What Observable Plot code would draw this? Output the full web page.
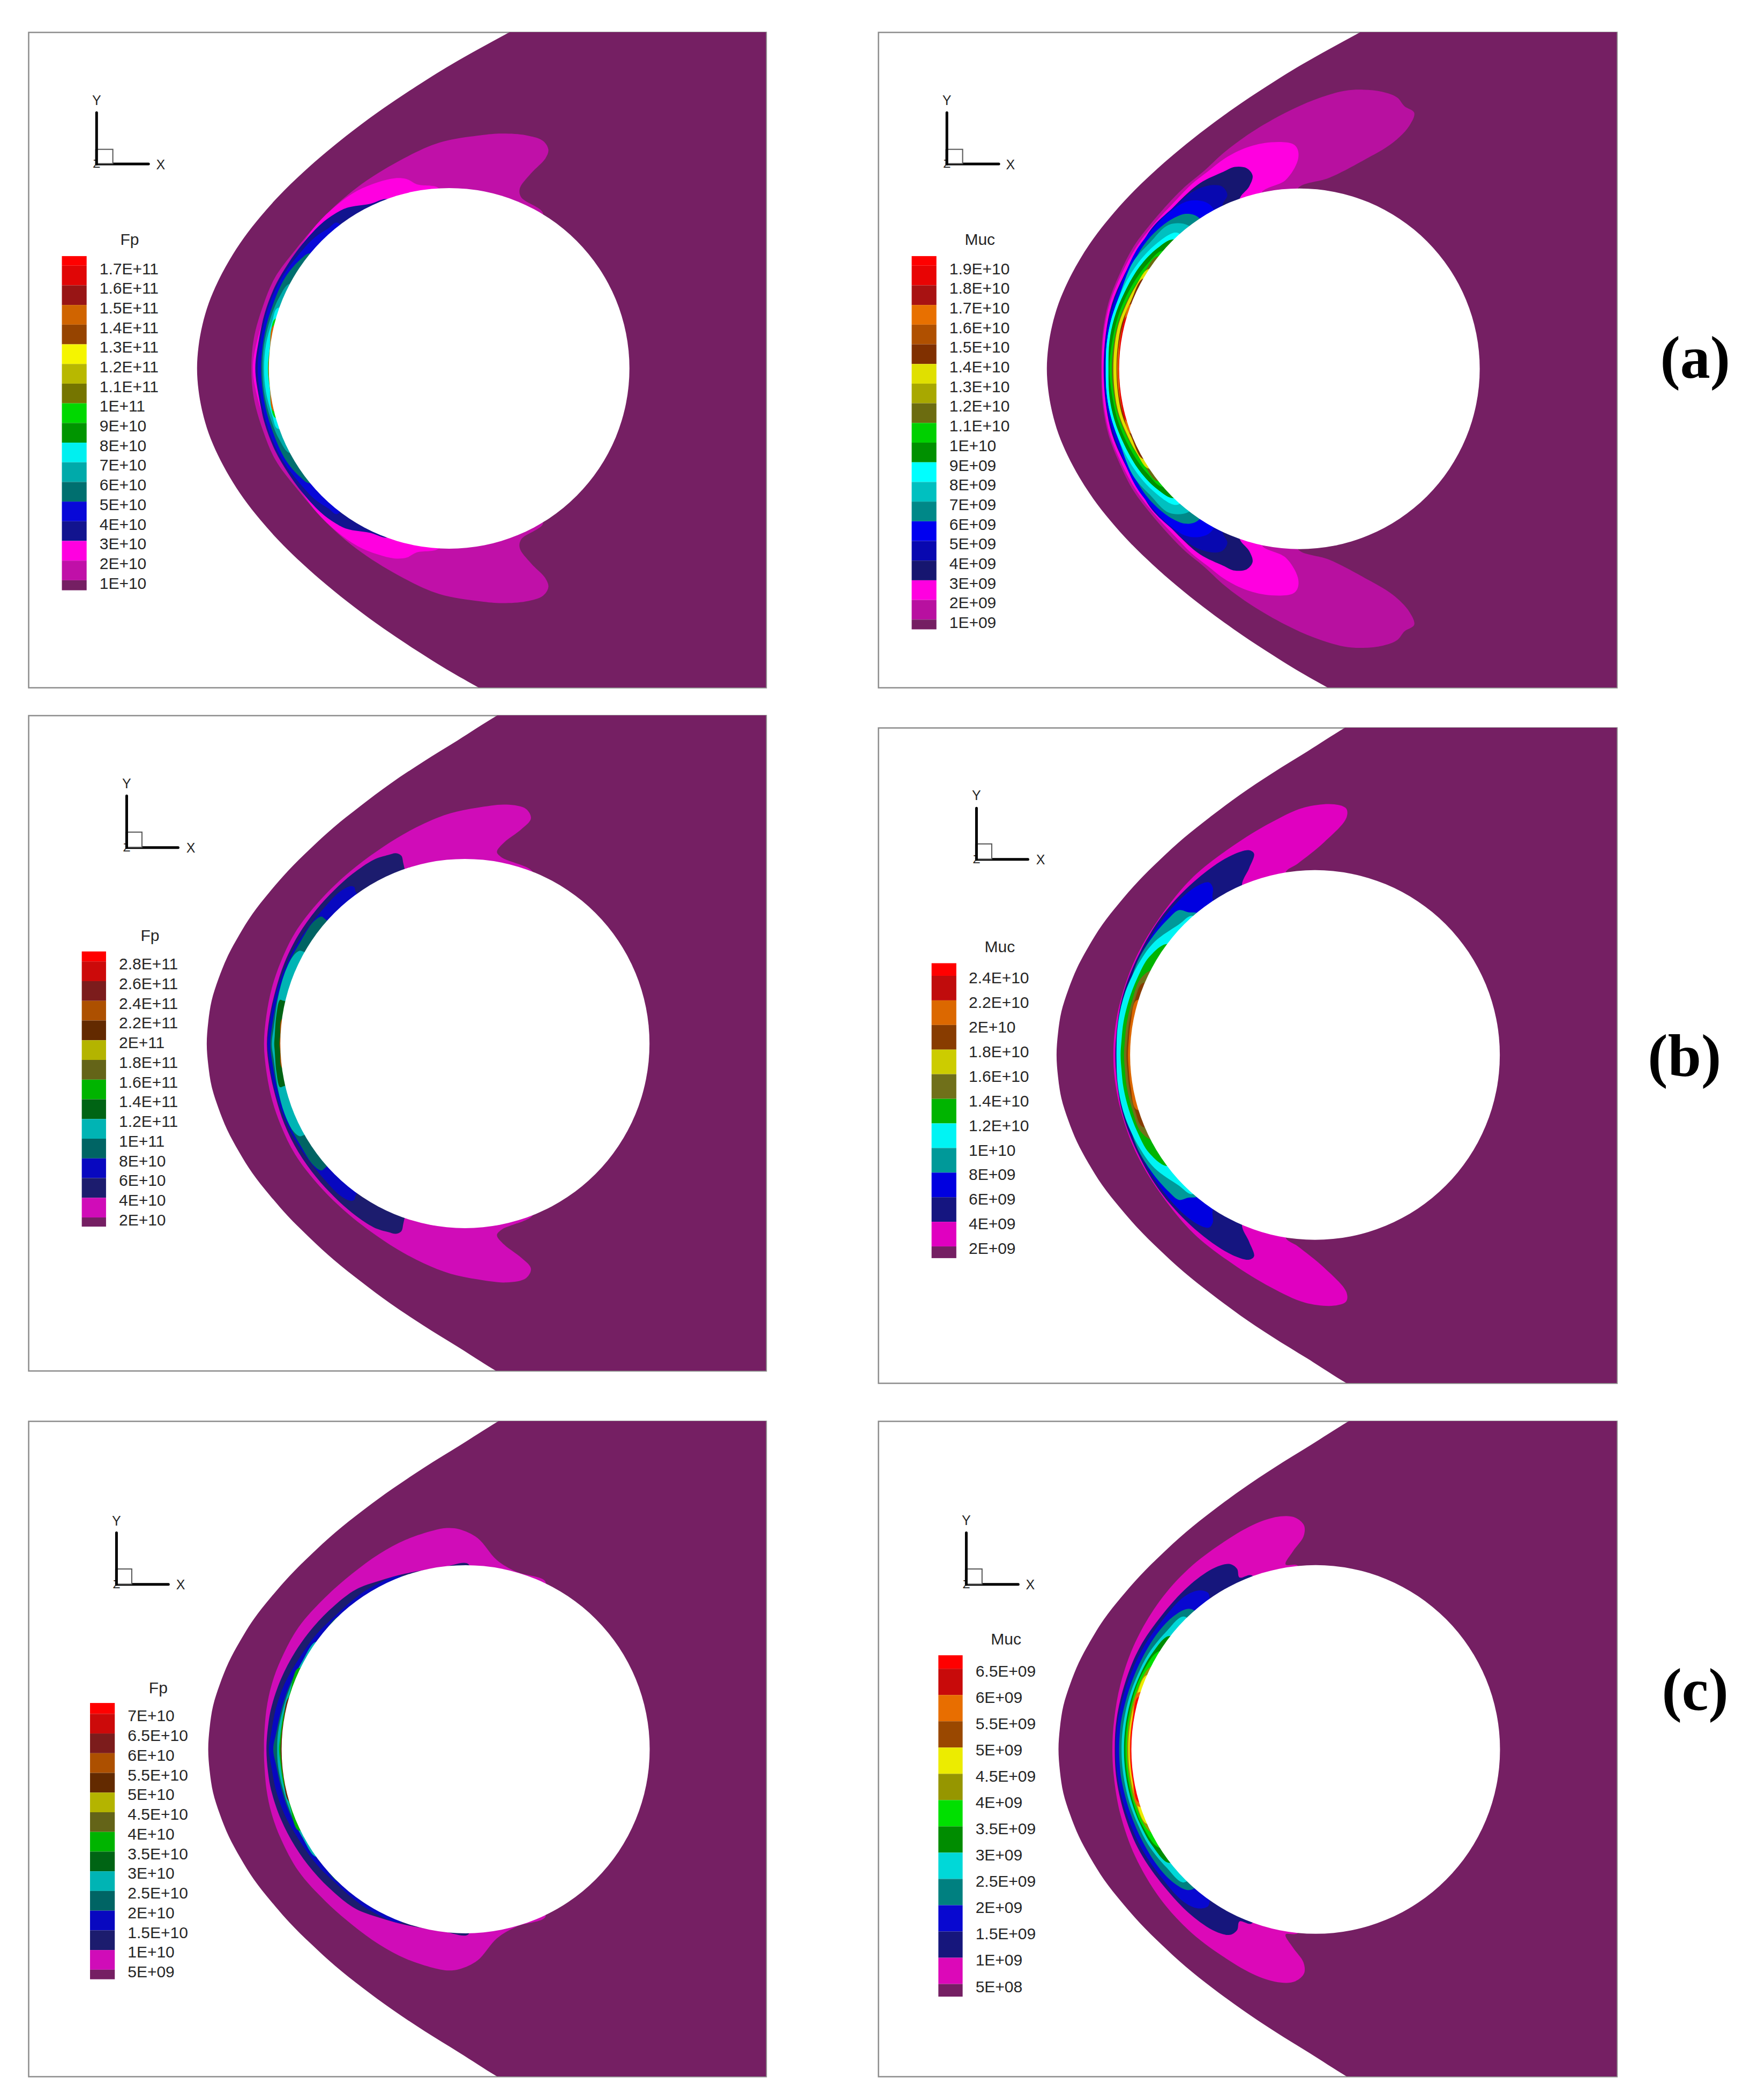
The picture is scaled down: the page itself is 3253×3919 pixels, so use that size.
<!DOCTYPE html>
<html>
<head>
<meta charset="utf-8">
<script src="https://cdn.jsdelivr.net/npm/d3@7"></script>
<script src="https://cdn.jsdelivr.net/npm/@observablehq/plot@0.6"></script>
<style>
html,body{margin:0;padding:0;background:#fff}
#page{position:relative;width:3253px;height:3919px;background:#fff;overflow:hidden}
#page>div{position:absolute}
</style>
</head>
<body>
<div id="page"></div>
<script>
// ---------- legend labels ----------
const labelsA = ["1.7E+11","1.6E+11","1.5E+11","1.4E+11","1.3E+11","1.2E+11","1.1E+11","1E+11","9E+10","8E+10","7E+10","6E+10","5E+10","4E+10","3E+10","2E+10","1E+10"];
const labelsB = ["1.9E+10","1.8E+10","1.7E+10","1.6E+10","1.5E+10","1.4E+10","1.3E+10","1.2E+10","1.1E+10","1E+10","9E+09","8E+09","7E+09","6E+09","5E+09","4E+09","3E+09","2E+09","1E+09"];
const labelsC = ["2.8E+11","2.6E+11","2.4E+11","2.2E+11","2E+11","1.8E+11","1.6E+11","1.4E+11","1.2E+11","1E+11","8E+10","6E+10","4E+10","2E+10"];
const labelsD = ["2.4E+10","2.2E+10","2E+10","1.8E+10","1.6E+10","1.4E+10","1.2E+10","1E+10","8E+09","6E+09","4E+09","2E+09"];
const labelsE = ["7E+10","6.5E+10","6E+10","5.5E+10","5E+10","4.5E+10","4E+10","3.5E+10","3E+10","2.5E+10","2E+10","1.5E+10","1E+10","5E+09"];
const labelsF = ["6.5E+09","6E+09","5.5E+09","5E+09","4.5E+09","4E+09","3.5E+09","3E+09","2.5E+09","2E+09","1.5E+09","1E+09","5E+08"];

// ---------- legend colours, top to bottom ----------
const colorsA = ["#ff0000","#e00606","#981515","#d06400","#964400","#f5f500","#b8b800","#757500","#00d800","#009500","#00f0f0","#00aaaa","#006f6f","#0808d8","#12148f","#ff00e0","#c010a8","#751f63"];
const colorsB = ["#ff0000","#e80404","#a81212","#e87000","#b05000","#803000","#e0e000","#a8a800","#6c6c10","#00d000","#009000","#00ffff","#00c0c0","#008888","#0000f0","#0808b0","#161670","#ff00e0","#b810a0","#751f63"];
const colorsC = ["#ff0000","#cc0a0a","#7c1c1c","#ad5000","#632a00","#b4b400","#646418","#00b400","#006414","#00b4b4","#006464","#0808c0","#1c1c6e","#d00cb8","#751f63"];
const colorsD = ["#ff0000","#c00c0c","#dc6800","#883c00","#cccc00","#70701a","#00b400","#00f4f4","#009999","#0000e0","#151580","#e000c0","#751f63"];
const colorsE = colorsC;
const colorsF = ["#ff0000","#c80a0a","#e86e00","#9a4800","#ecec00","#969600","#00e000","#008c00","#00d8d8","#008080","#0808d0","#16167c","#dc08b8","#751f63"];

// ---------- shock fronts, upper half ----------
const shockA = [[1109,-31],[1012,27],[896,99],[824,149],[757,199],[696,249],[640,299],[589,349],[543,399],[503,449],[468,499],[439,549],[415,599],[396,649],[383,699],[375,749],[372,799]];
const shockB = [[1105,-30],[1008,28],[892,100],[820,150],[753,200],[692,250],[636,300],[585,350],[539,400],[499,450],[464,500],[435,550],[411,600],[392,650],[379,700],[371,750],[368,800]];
const shockC = [[1115,-60],[990,18],[909,75],[837,125],[770,175],[710,225],[654,275],[605,325],[560,375],[521,425],[486,475],[458,525],[434,575],[416,625],[402,675],[395,725],[392,775]];
const shockD = [[1111,-59],[986,19],[905,76],[833,126],[766,176],[706,226],[650,276],[601,326],[556,376],[517,426],[482,476],[454,526],[430,576],[412,626],[398,676],[391,726],[388,776]];
const shockE = [[1118,-64],[994,14],[913,71],[841,121],[774,171],[713,221],[657,271],[608,321],[563,371],[524,421],[489,471],[461,521],[437,571],[419,621],[405,671],[398,721],[395,771]];
const shockF = [[1115,-64],[991,14],[910,71],[838,121],[771,171],[710,221],[654,271],[605,321],[560,371],[521,421],[486,471],[458,521],[434,571],[416,621],[402,671],[395,721],[392,771]];

// ---------- contour levels: [legend colour index, upper-half outline] ----------
const layersA = [
 [16,[[1085,442],[1040,405],[1037,385],[1060,350],[1090,315],[1096,295],[1085,275],[1050,262],[1000,258],[956,262],[871,279],[787,322],[702,382],[635,448],[576,524],[533,589],[508,655],[489,730],[484,799]]],
 [15,[[871,385],[825,375],[804,363],[779,361],[745,370],[702,390],[660,423],[618,468],[576,534],[542,594],[517,660],[497,730],[487,799]]],
 [14,[[766,410],[728,420],[681,429],[656,443],[626,468],[588,514],[559,559],[533,609],[512,670],[500,730],[492,799]]],
 [13,[[660,463],[643,476],[614,498],[580,539],[550,584],[525,640],[508,705],[497,799]]],
 [12,[[605,534],[584,549],[554,589],[529,650],[512,715],[504,799]]],
 [11,[[563,604],[542,634],[523,685],[510,745],[507,799]]],
 [10,[[538,660],[527,690],[514,745],[510,799]]],
 [8,[[533,685],[523,745],[518,799]]],
 [3,[[530,700],[522,755],[519,799]]]
];
const layersB = [
 [18,[[885,385],[950,360],[1020,320],[1080,280],[1115,240],[1125,210],[1105,195],[1090,175],[1060,162],[1020,157],[980,160],[920,180],[860,210],[790,255],[735,300],[690,346],[655,378],[626,410],[583,465],[547,518],[517,584],[495,648],[483,720],[480,800]]],
 [17,[[810,395],[860,365],[885,320],[885,295],[875,282],[830,278],[780,290],[735,315],[699,346],[666,375],[633,413],[589,466],[552,520],[521,584],[498,648],[485,720],[481.5,800]]],
 [16,[[765,410],[785,380],[792,355],[780,338],[755,335],[732,346],[684,372],[640,415],[596,469],[559,522],[526,587],[502,651],[489.5,720],[485,800]]],
 [15,[[730,425],[740,399],[729,380],[707,377],[670,391],[626,431],[585,475],[559,522],[527,587],[503,651],[490,720],[486,800]]],
 [14,[[705,423],[685,413],[655,415],[618,442],[581,485],[552,528],[526,590],[506,651],[491,720],[487.7,800]]],
 [13,[[679,450],[655,443],[626,455],[596,480],[574,506],[552,544],[515,638],[499,694],[491,747],[489.5,800]]],
 [12,[[660,470],[620,468],[580,510],[545,555],[515,640],[499,694],[491,747],[489.5,800]]],
 [11,[[640,488],[626,488],[578,528],[541,581],[515,640],[499,694],[491,747],[489.5,800]]],
 [10,[[630,502],[596,522],[559,565],[528,624],[507,683],[497,737],[495,800]]],
 [9,[[607,528],[574,560],[541,613],[515,678],[502,742],[497,800]]],
 [8,[[596,541],[567,581],[537,635],[515,694],[505,750],[502,800]]],
 [6,[[578,570],[552,608],[530,656],[513,710],[505,800]]],
 [5,[[567,592],[541,645],[523,694],[514,750],[511.6,800]]],
 [3,[[541,651],[526,694],[516,747],[513,800]]],
 [1,[[534,678],[521,720],[517,760],[515.5,800]]]
];
const layersC = [
 [13,[[1065,380],[1000,345],[990,332],[1005,310],[1040,280],[1060,255],[1050,233],[1010,223],[950,230],[894,243],[839,267],[784,300],[729,341],[673,391],[618,453],[574,518],[545,584],[526,646],[515,708],[510,775]]],
 [12,[[800,372],[797,358],[793,341],[782,335],[766,339],[736,350],[692,383],[655,420],[618,465],[581,523],[552,588],[534,650],[521,716],[516,775]]],
 [11,[[699,424],[696,413],[688,411],[666,424],[637,457],[604,502],[574,551],[548,613],[530,675],[519,749],[517,775]]],
 [10,[[635,486],[628,481],[611,494],[585,539],[559,593],[541,654],[528,724],[523,775]]],
 [9,[[591,562],[583,560],[570,572],[552,613],[539,667],[530,737],[526,775]]],
 [8,[[550,675],[543,673],[535.5,708],[532,757],[531,775]]],
 [3,[[548,716],[543,757],[541.8,775]]]
];
const layersD = [
 [11,[[860,355],[885,335],[940,285],[985,230],[985,208],[960,198],[900,205],[830,240],[750,295],[670,365],[600,460],[550,555],[520,650],[508,720],[505,776]]],
 [10,[[770,385],[785,345],[795,312],[785,304],[750,315],[700,350],[640,410],[590,480],[545,575],[522,650],[512,720],[509,776]]],
 [9,[[710,418],[710,390],[702,378],[680,385],[640,420],[590,490],[552,572],[525,650],[514,720],[511,776]]],
 [8,[[680,450],[660,447],[640,442],[620,460],[585,505],[555,560],[532,640],[516,720],[511.5,776]]],
 [7,[[668,455],[640,475],[590,515],[560,560],[530,630],[515,700],[511.5,776]]],
 [6,[[617,520],[579,550],[554,600],[537,650],[526,700],[522,740],[520,776]]],
 [5,[[587,580],[561,600],[544,650],[533,700],[529,740],[527,776]]],
 [3,[[566,610],[549,650],[538,700],[534,740],[532,776]]],
 [2,[[553,650],[541,700],[537,740],[535,776]]]
];
const layersE = [
 [13,[[1090,385],[1030,362],[990,335],[950,284],[913,264],[887,261],[858,267],[802,288],[747,321],[692,366],[637,420],[581,490],[545,564],[526,621],[515,679],[510,753],[510,771]]],
 [12,[[931,344],[876,352],[802,366],[747,383],[699,403],[655,440],[611,490],[574,547],[545,609],[526,671],[519,712],[515,771]]],
 [11,[[795,372],[729,399],[692,428],[655,465],[618,506],[581,564],[552,621],[534,679],[525,732],[520,771]]],
 [10,[[666,465],[633,502],[596,556],[567,613],[548,671],[535.5,732],[529,771]]],
 [9,[[618,523],[589,568],[563,630],[548,683],[539,732],[537,771]]],
 [7,[[581,584],[563,642],[550,691],[543,745],[541,771]]],
 [4,[[563,650],[550,704],[544.7,753],[544,771]]]
];
const layersF = [
 [12,[[885,348],[860,345],[875,315],[897,280],[898,255],[880,237],[850,234],[800,250],[730,295],[660,355],[600,430],[550,525],[520,620],[507,700],[503,771]]],
 [11,[[790,370],[765,375],[760,355],[745,344],[715,352],[665,390],[610,455],[560,535],[530,615],[512,700],[508,771]]],
 [10,[[705,425],[700,410],[680,405],[650,420],[605,475],[565,540],[535,615],[515,700],[510,771]]],
 [9,[[670,450],[655,448],[625,468],[595,505],[565,560],[540,625],[522,700],[518,740],[517,771]]],
 [8,[[650,465],[614,500],[578,550],[555,600],[538,650],[527.5,700],[523,740],[522,771]]],
 [7,[[620,510],[585,550],[560,600],[543,650],[532.5,700],[528,740],[527,771]]],
 [6,[[600,545],[563,600],[546,650],[535.5,700],[531,740],[530,771]]],
 [5,[[584,580],[549,650],[538.5,700],[534,740],[533,771]]],
 [4,[[574,600],[552,650],[541.5,700],[537,740],[536,771]]],
 [2,[[557,640],[544,700],[539.5,740],[538.5,771]]],
 [0,[[557,650],[545.5,700],[541,740],[540,771]]]
];

// ---------- panel layout (the x and y domains are each panel's own reading units) ----------
const panels = [
 {title:"Fp", labels:labelsA,colors:colorsA,shock:shockA,layers:layersA,left:52.6,top:60.2,frameW:1376.6,dx:[25,1545],dy:[25,1535],c:[891.5,799],r:336.5,
  bar:[94,145,541,1311],first:570,step:45.31,drop:7,labelX:171,titleAt:[233,503],triad:[165,328,210,272,199,295],Y:[165,182],X:[297,330]},
 {title:"Muc",labels:labelsB,colors:colorsB,shock:shockB,layers:layersB,left:1639,top:60.2,frameW:1378.4,dx:[21,1543],dy:[25,1535],c:[888.5,800],r:336.5,
  bar:[90,141,541,1401],first:570,step:45.31,drop:7,labelX:167,titleAt:[230,503],triad:[162,328,210,269,195,295],Y:[162,182],X:[293,330],row:"(a)",rowAt:[1704,776]},
 {title:"Fp", labels:labelsC,colors:colorsC,shock:shockC,layers:layersC,left:52.6,top:1334.6,frameW:1376.6,dx:[25,1545],dy:[18,1528],c:[924,773.5],r:344.5,
  bar:[135,185,562,1196],first:591,step:45.38,drop:6,labelX:211,titleAt:[275,525],triad:[227,322,203,333,259,287],Y:[227,175],X:[359,323]},
 {title:"Muc",labels:labelsD,colors:colorsD,shock:shockD,layers:layersD,left:1639,top:1357.8,frameW:1378.4,dx:[21,1543],dy:[22,1533],c:[920.5,776],r:345,
  bar:[131,182,565,1245],first:599,step:56.73,drop:5,labelX:207,titleAt:[271,527],triad:[223,325,207,329,255,290],Y:[223,178],X:[355,326],row:"(b)",rowAt:[1682,780]},
 {title:"Fp", labels:labelsE,colors:colorsE,shock:shockE,layers:layersE,left:52.6,top:2652.1,frameW:1376.6,dx:[25,1545],dy:[15,1526],c:[925.5,771],r:343.5,
  bar:[152,203,665,1302],first:695,step:45.38,drop:5,labelX:229,titleAt:[292,630],triad:[206,391,272,313,238,356],Y:[206,245],X:[338,393]},
 {title:"Muc",labels:labelsF,colors:colorsF,shock:shockF,layers:layersF,left:1639,top:2652.1,frameW:1378.4,dx:[21,1543],dy:[15,1526],c:[922,771.5],r:344,
  bar:[145,195,555,1342],first:592,step:60.58,drop:6,labelX:221,titleAt:[284,518],triad:[202,391,272,309,235,356],Y:[202,244],X:[334,393],row:"(c)",rowAt:[1704,636]}
];

const frameH = 1223, pageW = 3253;
const sans = "'Liberation Sans', Arial, sans-serif";
const ink = "#262626";

function drawPanel(p) {
  const [cx, cy] = p.c;
  const mirror = pts => pts.slice(0, -1).reverse().map(([x, y]) => [x, 2 * cy - y]);
  const shockPts = [[1800, -160], ...p.shock, ...mirror(p.shock), [1800, 2 * cy + 160]];
  // each outline closes through the hidden interior of the disc
  const levels = p.layers.map(([i, pts]) => {
    const tip = pts[0];
    const inner = [tip[0] + 0.12 * (cx - tip[0]), tip[1] + 0.12 * (cy - tip[1])];
    return {color: p.colors[i], pts: [p.c, inner, ...pts, ...mirror(pts), [inner[0], 2 * cy - inner[1]]]};
  });

  const bounds = p.labels.map((_, i) => p.first - p.drop + i * p.step);
  const edges = [p.bar[2], ...bounds, p.bar[3]];
  const swatches = p.colors.map((color, i) => ({color, y1: edges[i], y2: edges[i + 1]}));
  const rows = p.labels.map((label, i) => ({label, y: p.first + i * p.step}));
  const [ox, oy, yTop, xEnd, boxX, boxY] = p.triad;
  const plotW = p.left > 1000 ? pageW - p.left : p.frameW;

  const marks = [
    Plot.frame({stroke: "#8c8c8c", strokeWidth: 2.5, fill: "white"}),
    Plot.line(shockPts, {x: d => d[0], y: d => d[1], fill: "#751f63", stroke: "none", curve: "catmull-rom", clip: "frame"}),
    ...levels.map(l => Plot.line(l.pts, {x: d => d[0], y: d => d[1], fill: l.color, stroke: "none", curve: "catmull-rom-closed", clip: "frame"})),
    Plot.dot([p.c], {x: d => d[0], y: d => d[1], r: p.r, fill: "white", stroke: "none"}),
    // axes triad
    Plot.text(["Z"], {x: ox, y: oy, text: d => d, fontSize: 22, fill: ink}),
    Plot.line([[ox, oy], [ox, yTop]], {x: d => d[0], y: d => d[1], stroke: "black", strokeWidth: 5}),
    Plot.line([[ox, oy], [xEnd, oy]], {x: d => d[0], y: d => d[1], stroke: "black", strokeWidth: 5}),
    Plot.rect([0], {x1: ox, x2: boxX, y1: oy, y2: boxY, fill: "white", stroke: "#555", strokeWidth: 2}),
    Plot.line([[ox, oy], [ox, boxY]], {x: d => d[0], y: d => d[1], stroke: "black", strokeWidth: 5}),
    Plot.text(["Y"], {x: p.Y[0], y: p.Y[1], text: d => d, fontSize: 25, fontFamily: sans, fill: ink}),
    Plot.text(["X"], {x: p.X[0], y: p.X[1], text: d => d, fontSize: 25, fontFamily: sans, fill: ink}),
    // legend
    Plot.rect(swatches, {x1: p.bar[0], x2: p.bar[1], y1: "y1", y2: "y2", fill: "color"}),
    Plot.text(rows, {x: p.labelX, y: "y", text: "label", textAnchor: "start", fontSize: 30, fontFamily: sans, fill: ink}),
    Plot.text([p.title], {x: p.titleAt[0], y: p.titleAt[1], text: d => d, fontSize: 30, fontFamily: sans, fill: ink})
  ];
  if (p.row) marks.push(Plot.text([p.row], {x: p.rowAt[0], y: p.rowAt[1], text: d => d, fontSize: 112, fontWeight: "bold", fontFamily: "'Liberation Serif', 'Times New Roman', serif", fill: "black"}));

  const chart = Plot.plot({
    width: plotW, height: frameH,
    marginTop: 0, marginBottom: 0, marginLeft: 0, marginRight: plotW - p.frameW,
    x: {domain: p.dx, axis: null},
    y: {domain: [p.dy[1], p.dy[0]], axis: null},
    color: {type: "identity"},
    style: {background: "transparent", maxWidth: "none", overflow: "visible", fontFamily: sans},
    marks
  });
  const holder = document.createElement("div");
  holder.style.left = p.left + "px";
  holder.style.top = p.top + "px";
  holder.appendChild(chart);
  document.getElementById("page").appendChild(holder);
}
panels.forEach(drawPanel);
</script>
</body>
</html>
